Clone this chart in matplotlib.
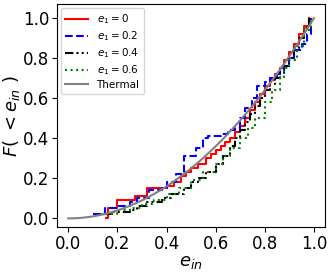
import numpy as np
import matplotlib.pyplot as plt

# ECDF step knots
x_e0 = [0.155, 0.16, 0.20, 0.27, 0.32, 0.40, 0.43, 0.46, 0.48, 0.50, 0.53, 0.56, 0.58,
        0.60, 0.62, 0.64, 0.66, 0.68, 0.70, 0.72, 0.74, 0.76, 0.78, 0.80, 0.82, 0.84,
        0.86, 0.88, 0.90, 0.92, 0.94, 0.96, 0.98]
y_e0 = [0.00, 0.05, 0.09, 0.11, 0.15, 0.16, 0.18, 0.21, 0.23, 0.25, 0.27, 0.30, 0.32,
        0.34, 0.36, 0.38, 0.40, 0.43, 0.46, 0.50, 0.54, 0.58, 0.62, 0.66, 0.69, 0.72,
        0.75, 0.79, 0.83, 0.87, 0.92, 0.96, 1.00]

x_e2 = [0.10, 0.15, 0.20, 0.25, 0.28, 0.33, 0.38, 0.40, 0.44, 0.47, 0.52, 0.55, 0.57,
        0.62, 0.65, 0.68, 0.70, 0.72, 0.75, 0.77, 0.80, 0.82, 0.85, 0.88, 0.90, 0.92,
        0.95, 0.97, 0.99]
y_e2 = [0.02, 0.05, 0.06, 0.08, 0.10, 0.14, 0.15, 0.18, 0.22, 0.31, 0.35, 0.40, 0.41,
        0.42, 0.44, 0.45, 0.50, 0.55, 0.60, 0.66, 0.68, 0.70, 0.72, 0.76, 0.80, 0.84,
        0.87, 0.92, 1.00]

x_e4 = [0.14, 0.18, 0.25, 0.28, 0.32, 0.38, 0.42, 0.47, 0.50, 0.53, 0.56, 0.60, 0.63,
        0.66, 0.68, 0.70, 0.72, 0.74, 0.76, 0.78, 0.80, 0.82, 0.84, 0.86, 0.88, 0.90,
        0.92, 0.94, 0.96, 0.98]
y_e4 = [0.02, 0.03, 0.04, 0.06, 0.08, 0.10, 0.12, 0.15, 0.18, 0.20, 0.23, 0.27, 0.31,
        0.36, 0.40, 0.44, 0.48, 0.52, 0.56, 0.60, 0.64, 0.67, 0.70, 0.73, 0.76, 0.80,
        0.85, 0.90, 0.95, 1.00]

x_e6 = [0.13, 0.20, 0.25, 0.30, 0.35, 0.40, 0.45, 0.50, 0.55, 0.60, 0.63, 0.66, 0.70,
        0.73, 0.76, 0.80, 0.83, 0.86, 0.88, 0.90, 0.93, 0.96, 0.99]
y_e6 = [0.02, 0.04, 0.05, 0.07, 0.09, 0.12, 0.15, 0.19, 0.23, 0.27, 0.31, 0.35, 0.40,
        0.45, 0.50, 0.58, 0.64, 0.70, 0.75, 0.79, 0.86, 0.94, 1.00]

x_th = np.linspace(0, 1, 200)

fig, ax = plt.subplots(figsize=(3.35, 2.74), dpi=100)
ax.step(x_e0, y_e0, where='post', color='red', lw=1.5, label=r'$e_1=0$')
ax.step(x_e2, y_e2, where='post', color='blue', lw=1.5, ls='--', label=r'$e_1=0.2$')
ax.step(x_e4, y_e4, where='post', color='black', lw=1.5, ls=(0, (4, 1.5, 1, 1.5, 1, 1.5)),
        label=r'$e_1=0.4$')
ax.step(x_e6, y_e6, where='post', color='green', lw=1.5, ls=':', label=r'$e_1=0.6$')
ax.plot(x_th, x_th**2, color='grey', lw=1.5, label='Thermal')

ax.set_xlim(-0.046, 1.045)
ax.set_ylim(-0.045, 1.07)
ax.set_xticks([0, 0.2, 0.4, 0.6, 0.8, 1.0])
ax.set_yticks([0, 0.2, 0.4, 0.6, 0.8, 1.0])
ax.tick_params(labelsize=12, pad=2)
ax.set_xlabel(r'$e_{in}$', fontsize=13, labelpad=0)
ax.set_ylabel(r'$F(\ <e_{in}\ )$', fontsize=13, labelpad=1)
ax.legend(loc='upper left', fontsize=7.5, handlelength=2.2, labelspacing=0.3,
          borderaxespad=0.4)

fig.subplots_adjust(left=0.17, right=0.97, bottom=0.17, top=0.985)
fig.savefig('out.png', dpi=100)
